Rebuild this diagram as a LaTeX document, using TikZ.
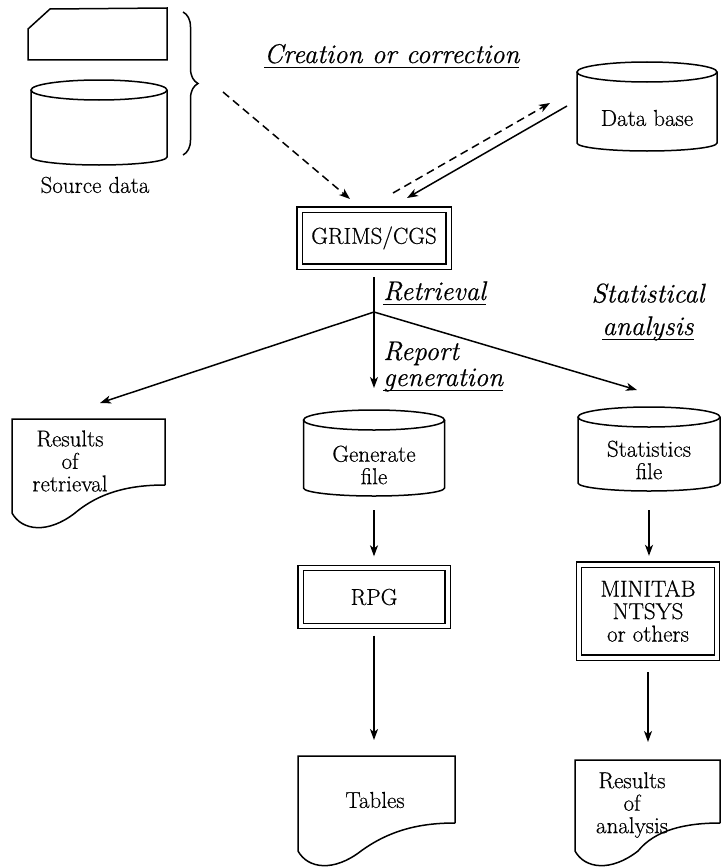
\documentclass[tikz,border=0pt]{standalone}
\usepackage{fontspec}
\setmainfont{Latin Modern Roman}[FakeBold=0.5]
\newfontfamily\heavy{Latin Modern Roman}[FakeBold=0.5]
\usetikzlibrary{arrows.meta,calc,decorations.pathreplacing}
\newcommand\myul[1]{\setbox0\hbox{#1}\rlap{\rule[-5pt]{\wd0}{1.2pt}}\box0}
\tikzset{
  ln/.style={line width=1.5pt},
  arr/.style={line width=1.5pt,-{Stealth[length=11pt,width=8pt,inset=3pt]}},
  dsh/.style={arr,dash pattern=on 8pt off 5pt},
  txt/.style={font=\heavy\fontsize{23}{22.5}\selectfont,align=center,inner sep=0pt},
  ital/.style={font=\heavy\fontsize{27}{26}\selectfont\itshape,inner sep=0pt},
  dbl/.style={txt,draw,line width=1.3pt,double,double distance=4pt}
}
% cylinder: name, half width, top-ellipse centre above node centre, side bottom below centre, ellipse ry
\newcommand\cylout[5]{%
  \draw[ln] ($(#1.center)+(-#2,-#3)$) -- ($(#1.center)+(-#2,#4)$)
     arc[start angle=180,end angle=360,x radius=#2pt,y radius=8pt] -- ($(#1.center)+(#2,-#3)$);
  \draw[ln] ($(#1.center)+(0,-#3)$) ellipse[x radius=#2pt,y radius=#5pt];
  \coordinate (#1-top) at ($(#1.center)+(0,-#3-#5)$);
  \coordinate (#1-bot) at ($(#1.center)+(0,#4+8)$);}
% document: name, left dx, right dx, top dy, right-bottom dy
\newcommand\docout[5]{%
  \draw[ln] ($(#1.center)+(#3,#5)$) -- ($(#1.center)+(#3,#4)$) -- ($(#1.center)+(#2,#4)$)
     -- ($(#1.center)+(#2,#5+28)$)
     .. controls ($(#1.center)+(#2+10,#5+46)$) and ($(#1.center)+(#2+36,#5+49)$) .. ($(#1.center)+(#2+63,#5+28)$)
     .. controls ($(#1.center)+(#3-65,#5+7)$) and ($(#1.center)+(#3-35,#5)$) .. ($(#1.center)+(#3,#5)$);}
\begin{document}
\begin{tikzpicture}[x=1pt,y=-1pt]
\useasboundingbox (0,0) rectangle (725,867);
% source data: card and disk
\draw[ln] (28,60) -- (28,29) -- (50,9) -- (167,8) -- (167,60) -- cycle;
\node[txt,minimum width=136pt,minimum height=10pt] (srcdisk) at (99,128) {};
\cylout{srcdisk}{68}{38}{29}{10}
\draw[line width=1.5pt,decorate,decoration={brace,amplitude=15pt}] (183,12) -- (183,155);
\node[txt] (srclab) at (95,185) {Source data};
% title
\node[ital,anchor=base west] (cre) at (264,63) {\myul{Creation or correction}};
% data base
\node[txt] (db) at (647,118) {Data base};
\cylout{db}{70}{46}{25}{10}
% GRIMS
\node[dbl,minimum width=149pt,minimum height=57pt] (grims) at (374,238) {GRIMS/CGS};
\coordinate (srcout) at (223,92);
\coordinate (gin1) at (350,199);
\coordinate (gout) at (393,193);
\coordinate (dbin) at (550,103);
\coordinate (dbout) at (567,106);
\coordinate (gin2) at (407,198);
\draw[dsh] (srcout) -- (gin1);
\draw[dsh] (gout) -- (dbin);
\draw[arr] (dbout) -- (gin2);
% branches
\node[txt] (gen) at (374,465) {Generate\\file};
\cylout{gen}{70.5}{45}{23}{10}
\coordinate (br) at (374,312);
\draw[arr] ($(grims.south)+(0,10)$) -- ($(gen-top)+(0,-22)$);
\coordinate (retTip) at (100,403);
\coordinate (statTip) at (637,390);
\draw[arr] (br) -- (retTip);
\draw[arr] (br) -- (statTip);
\node[ital,anchor=base west] (retr) at (383,300) {\myul{Retrieval}};
\node[ital,anchor=base west] (repgen) at (383,386) {\begin{tabular}[b]{@{}l@{}}Report\\\myul{generation}\end{tabular}};
\node[ital,anchor=base] (stat) at (648,335) {\begin{tabular}[b]{@{}c@{}}Statistical\\[6pt]\myul{analysis}\end{tabular}};
% results of retrieval
\node[txt] (ret) at (70,461) {Results\\of\\retrieval};
\docout{ret}{-58}{95}{-42}{24}
% statistics file
\node[txt] (stf) at (649,460) {Statistics\\file};
\cylout{stf}{71}{43}{23}{10}
% programs
\node[dbl,minimum width=147pt,minimum height=58pt] (rpg) at (374,597) {RPG};
\node[dbl,minimum width=138pt,minimum height=93pt] (mini) at (648,611) {MINITAB\\NTSYS\\or others};
\draw[arr] ($(gen-bot)+(0,14)$) -- ($(gen-bot |- rpg.north)+(0,-11)$);
\draw[arr] ($(stf-bot)+(0,19)$) -- ($(stf-bot |- mini.north)+(0,-8)$);
% outputs
\node[txt] (tab) at (375,800) {Tables};
\docout{tab}{-77}{80}{-44}{23}
\node[txt] (ana) at (632,805) {Results\\of\\analysis};
\docout{ana}{-57}{88}{-45}{18}
\coordinate (tabTip) at (374,740);
\coordinate (anaTip) at (648,742);
\draw[arr] ($(rpg.south)+(0,9)$) -- (tabTip);
\draw[arr] ($(mini.south)+(0,14)$) -- (anaTip);
\end{tikzpicture}
\end{document}
